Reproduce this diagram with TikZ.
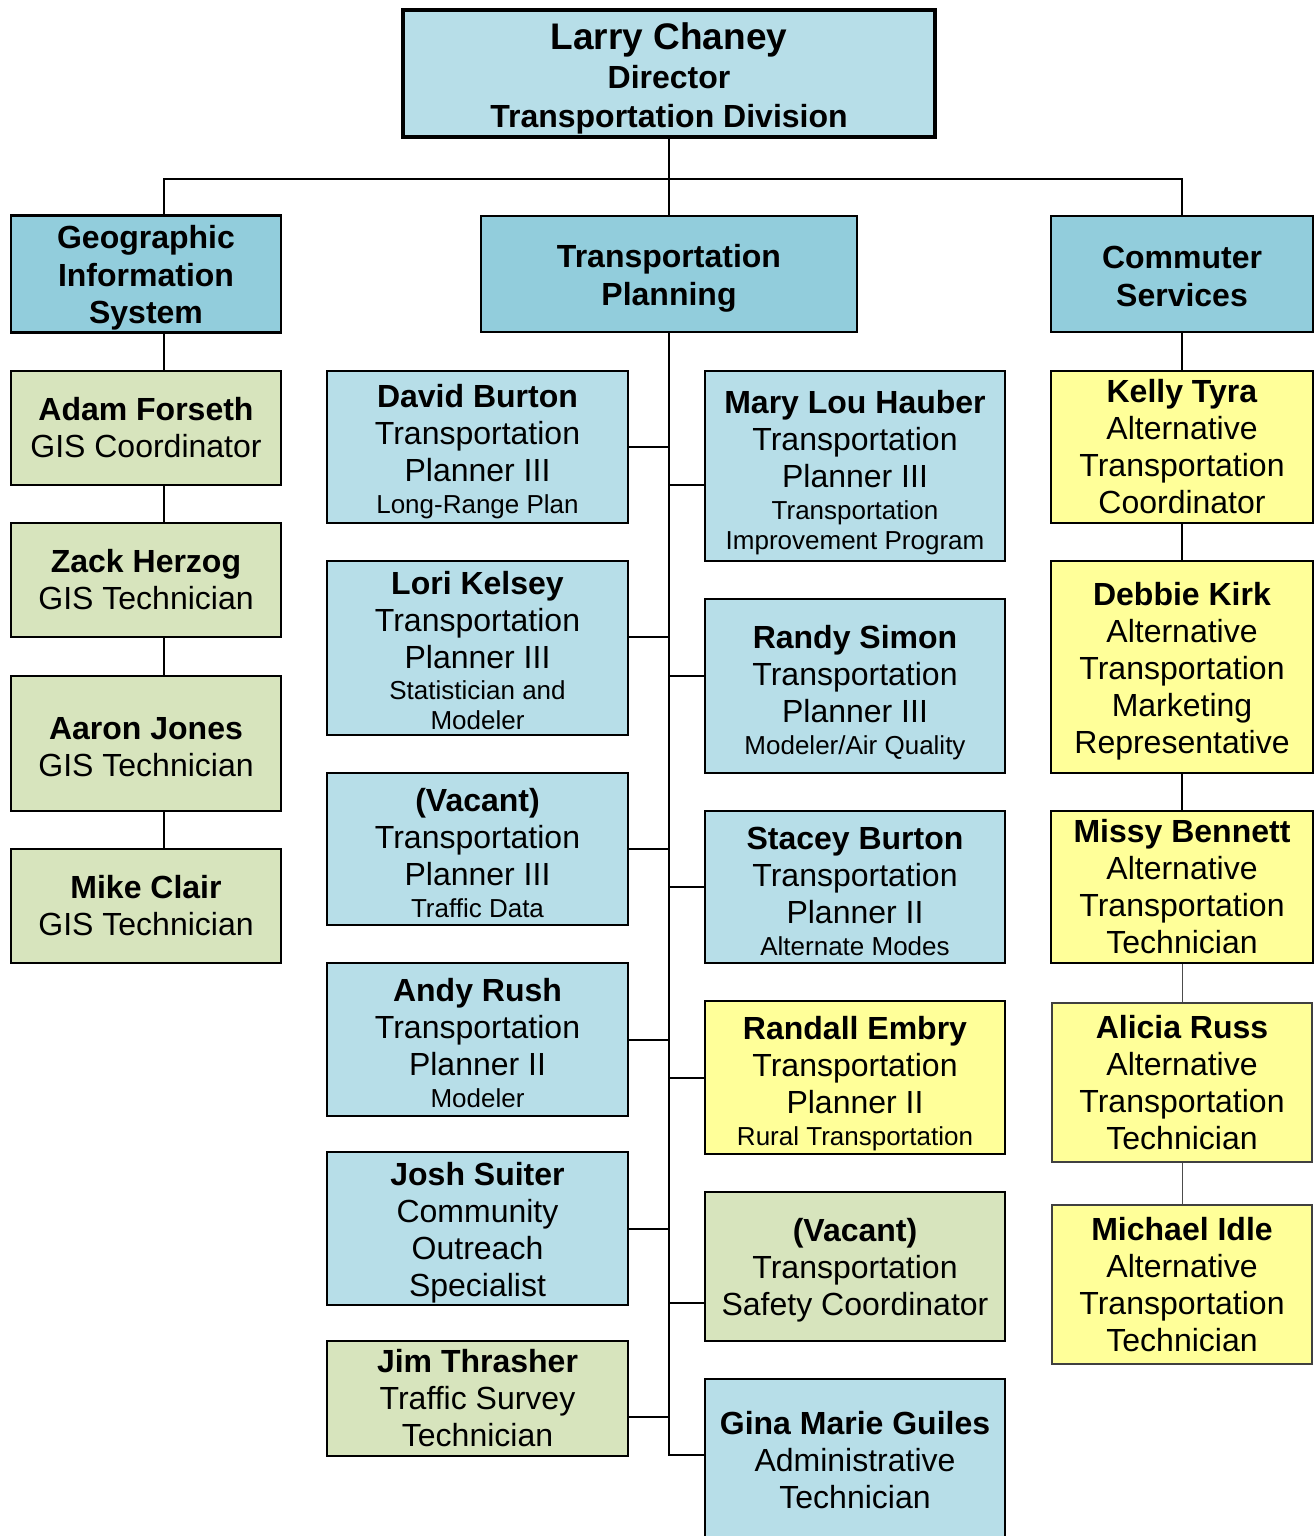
\documentclass[tikz,border=0pt]{standalone}
\usepackage{fontspec}
\setmainfont{Liberation Sans}
\definecolor{headblue}{RGB}{146,205,220}
\definecolor{paleblue}{RGB}{183,222,232}
\definecolor{palegreen}{RGB}{215,228,189}
\definecolor{paleyellow}{RGB}{255,255,153}
\newcommand{\smalltxt}{\fontsize{13}{15}\selectfont}
\newcommand{\pad}[1]{\rule{0pt}{#1}}

\begin{document}
\begin{tikzpicture}[x=0.5pt, y=-0.5pt, font=\fontsize{16}{18.5}\selectfont,
  box/.style={draw, line width=1pt, align=center, inner sep=1pt},
  headbox/.style={box, line width=1.3pt, fill=headblue, font=\bfseries\fontsize{16}{18.75}\selectfont, minimum height=58pt},
  gisbox/.style={box, fill=palegreen, minimum width=135pt},
  leftbox/.style={box, fill=paleblue, minimum width=150.5pt},
  rightbox/.style={box, fill=paleblue, minimum width=150pt},
  csbox/.style={box, fill=paleyellow, minimum width=131pt},
  link/.style={line width=1pt},
  thinlink/.style={line width=0.5pt, black!70}]

\useasboundingbox (0,0) rectangle (1315,1536);

\node[box, line width=2.2pt, fill=paleblue, minimum width=266pt, minimum height=63.5pt,
  font=\bfseries\fontsize{16}{19.5}\selectfont] (top) at (669,73.5)
  {\pad{18.5pt}{\fontsize{18.5}{20}\selectfont Larry Chaney}\\ Director\\ Transportation Division};

\node[headbox, minimum width=135pt] (gis) at (146,274) {\pad{15.7pt}Geographic\\ Information\\ System};
\node[headbox, minimum width=188pt] (tp) at (669,274) {\pad{15.7pt}Transportation\\ Planning};
\node[headbox, minimum width=131pt] (cs) at (1182,274) {\pad{13.7pt}Commuter\\ Services};

\node[gisbox, minimum height=57pt] (adam) at (146,428) {\textbf{Adam Forseth}\\ GIS Coordinator};
\node[gisbox, minimum height=57pt] (zack) at (146,580) {\textbf{Zack Herzog}\\ GIS Technician};
\node[gisbox, minimum height=67.5pt] (aaron) at (146,743.5) {\pad{14.7pt}\textbf{Aaron Jones}\\ GIS Technician};
\node[gisbox, minimum height=57pt] (mike) at (146,906) {\textbf{Mike Clair}\\ GIS Technician};

\node[leftbox, minimum height=76pt] (david) at (477.5,447)
  {\pad{16.5pt}\textbf{David Burton}\\ Transportation\\ Planner III\\[-2.5pt] \smalltxt Long-Range Plan};
\node[leftbox, minimum height=87pt] (lori) at (477.5,648)
  {\pad{14.2pt}\textbf{Lori Kelsey}\\ Transportation\\ Planner III\\[-3pt] \smalltxt Statistician and\\[-3.5pt] \smalltxt Modeler};
\node[leftbox, minimum height=76pt] (vacanta) at (477.5,849)
  {\pad{15.2pt}\textbf{(Vacant)}\\ Transportation\\ Planner III\\[-2.5pt] \smalltxt Traffic Data};
\node[leftbox, minimum height=76.5pt] (andy) at (477.5,1039.5)
  {\pad{14.7pt}\textbf{Andy Rush}\\ Transportation\\ Planner II\\[-2.5pt] \smalltxt Modeler};
\node[leftbox, minimum height=74.5pt] (josh) at (477.5,1228.5)
  {\pad{15.7pt}\textbf{Josh Suiter}\\ Community\\ Outreach\\ Specialist};
\node[leftbox, fill=palegreen, minimum height=57.5pt] (jim) at (477.5,1398.5)
  {\textbf{Jim Thrasher}\\ Traffic Survey\\ Technician};

\node[rightbox, minimum height=95pt] (mary) at (855,466)
  {\pad{17.7pt}\textbf{Mary Lou Hauber}\\ Transportation\\ Planner III\\[-2.5pt] \smalltxt Transportation\\[-3.5pt] \smalltxt Improvement Program};
\node[rightbox, minimum height=87pt] (randy) at (855,686)
  {\pad{17.7pt}\textbf{Randy Simon}\\ Transportation\\ Planner III\\[-2.5pt] \smalltxt Modeler/Air Quality};
\node[rightbox, minimum height=76pt] (stacey) at (855,887)
  {\pad{15.2pt}\textbf{Stacey Burton}\\ Transportation\\ Planner II\\[-2.5pt] \smalltxt Alternate Modes};
\node[rightbox, fill=paleyellow, minimum height=76.5pt] (randall) at (855,1077.5)
  {\pad{17.7pt}\textbf{Randall Embry}\\ Transportation\\ Planner II\\[-2.5pt] \smalltxt Rural Transportation};
\node[rightbox, fill=palegreen, minimum height=74.5pt] (safety) at (855,1266.5)
  {\pad{15.7pt}\textbf{(Vacant)}\\ Transportation\\ Safety Coordinator};
\node[rightbox, minimum height=81pt] (gina) at (855,1460)
  {\textbf{Gina Marie Guiles}\\ Administrative\\ Technician};

\node[csbox, minimum height=76pt] (kelly) at (1182,447)
  {\textbf{Kelly Tyra}\\ Alternative\\ Transportation\\ Coordinator};
\node[csbox, minimum height=106pt] (debbie) at (1182,667)
  {\pad{15.7pt}\textbf{Debbie Kirk}\\ Alternative\\ Transportation\\ Marketing\\ Representative};
\node[csbox, minimum height=76pt] (missy) at (1182,887)
  {\textbf{Missy Bennett}\\ Alternative\\ Transportation\\ Technician};
\node[csbox, line width=0.6pt, draw=black!75, minimum width=130pt, minimum height=79.5pt] (alicia) at (1182,1082.5)
  {\textbf{Alicia Russ}\\ Alternative\\ Transportation\\ Technician};
\node[csbox, line width=0.6pt, draw=black!75, minimum width=130pt, minimum height=79.5pt] (michael) at (1182,1284.5)
  {\textbf{Michael Idle}\\ Alternative\\ Transportation\\ Technician};

\coordinate (bus) at (666,179);
\draw[link] (top.south) -- (tp.north);
\draw[link] ([xshift=9pt]gis.north) |- (bus) -| (cs.north);

\foreach \a/\b in {gis/adam, adam/zack, zack/aaron, aaron/mike}
  \draw[link] ([xshift=9pt]\a.south) -- ([xshift=9pt]\b.north);

\foreach \n/\s in {david/0, lori/5.5, vacanta/0, andy/0, josh/0, jim/-9.25}
  \draw[link] ([yshift=\s pt]\n.east) -| (tp.south);
\foreach \n/\s in {mary/-9.5, randy/5, stacey/0, randall/0, safety/-18.25, gina/2.5}
  \draw[link] ([yshift=\s pt]\n.west) -| (tp.south);

\foreach \a/\b in {cs/kelly, kelly/debbie, debbie/missy}
  \draw[link] (\a.south) -- (\b.north);
\foreach \a/\b in {missy/alicia, alicia/michael}
  \draw[thinlink] (\a.south) -- (\b.north);
\end{tikzpicture}
\end{document}
